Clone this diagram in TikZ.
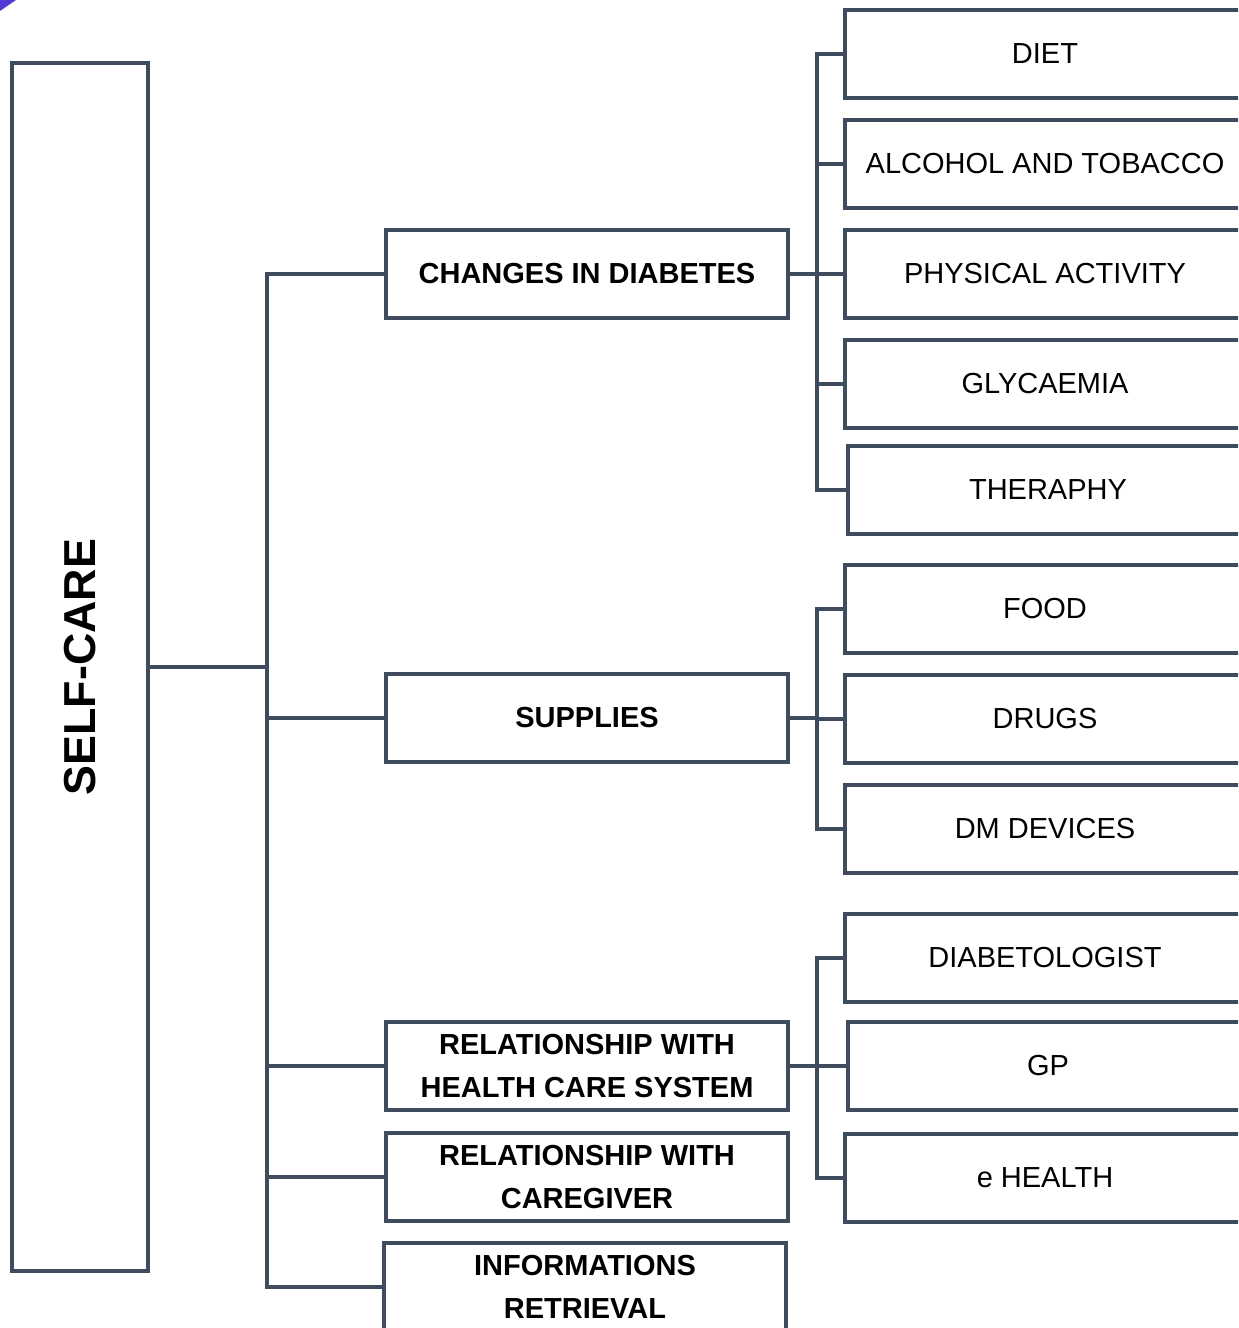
\documentclass[tikz,border=0pt]{standalone}
\usepackage{fontspec}
\setmainfont{Liberation Sans}
\usepackage{tikz}
\definecolor{slateline}{RGB}{63,76,94}
\definecolor{cornerpurple}{RGB}{84,56,214}
\tikzset{
    every picture/.style={x=0.02cm, y=-0.02cm},
    link/.style={slateline, line width=2.2pt, line cap=rect},
    mainbox/.style={draw=slateline, line width=2.2pt, minimum width=2.72cm, minimum height=24.16cm, inner sep=0pt},
    midbox/.style={draw=slateline, line width=2.2pt, minimum width=8.04cm, minimum height=1.76cm, align=center, inner sep=0pt,
        font=\fontsize{16.5}{24.4}\selectfont\bfseries},
    leafbox/.style={draw=slateline, line width=2.2pt, minimum width=8cm, minimum height=1.76cm, align=center, inner sep=0pt,
        font=\fontsize{16.5}{24.4}\selectfont}
}

\begin{document}
\begin{tikzpicture}
    % Page frame
    \clip (0,0) rectangle (1238,1328);
    \fill[white] (0,0) rectangle (1238,1328);
    \fill[cornerpurple] (0,0) -- (16,0) -- (0,11) -- cycle;

    % Main box
    \node[mainbox] (self) at (80,667) {};
    \node[rotate=90, font=\fontsize{25.5}{30}\selectfont\bfseries] at (self.center) {SELF-CARE};

    % Middle boxes
    \node[midbox] (changes) at (587,274) {CHANGES IN DIABETES};
    \node[midbox] (supplies) at (587,718) {SUPPLIES};
    \node[midbox] (relhcs) at (587,1066) {RELATIONSHIP WITH\\HEALTH CARE SYSTEM};
    \node[midbox] (relcare) at (587,1177) {RELATIONSHIP WITH\\CAREGIVER};
    \node[midbox] (info) at (585,1287) {INFORMATIONS\\RETRIEVAL};

    % Right boxes
    \node[leafbox] (diet) at (1045,54) {DIET};
    \node[leafbox] (alcohol) at (1045,164) {ALCOHOL AND TOBACCO};
    \node[leafbox] (physical) at (1045,274) {PHYSICAL ACTIVITY};
    \node[leafbox] (glycaemia) at (1045,384) {GLYCAEMIA};
    \node[leafbox] (theraphy) at (1048,490) {THERAPHY};
    \node[leafbox] (food) at (1045,609) {FOOD};
    \node[leafbox] (drugs) at (1045,719) {DRUGS};
    \node[leafbox] (devices) at (1045,829) {DM DEVICES};
    \node[leafbox] (diabetologist) at (1045,958) {DIABETOLOGIST};
    \node[leafbox] (gp) at (1048,1066) {GP};
    \node[leafbox] (ehealth) at (1045,1178) {e HEALTH};

    % Trunk from the main box
    \coordinate (trunk) at (267,667);
    \draw[link] (self.east) -- (trunk);
    \draw[link] (trunk |- changes) -- (trunk |- info);
    \foreach \m in {changes, supplies, relhcs, relcare, info} {
        \draw[link] (trunk |- \m) -- (\m.west);
    }

    % Brackets to the right boxes
    \coordinate (forkA) at (817,274);
    \coordinate (forkB) at (817,718);
    \coordinate (forkC) at (817,1066);
    \draw[link] (changes.east) -- (forkA);
    \draw[link] (supplies.east) -- (forkB);
    \draw[link] (relhcs.east) -- (forkC);
    \draw[link] (forkA |- diet) -- (forkA |- theraphy);
    \draw[link] (forkB |- food) -- (forkB |- devices);
    \draw[link] (forkC |- diabetologist) -- (forkC |- ehealth);
    \foreach \r in {diet, alcohol, physical, glycaemia, theraphy} {
        \draw[link] (forkA |- \r) -- (\r.west);
    }
    \foreach \r in {food, drugs, devices} {
        \draw[link] (forkB |- \r) -- (\r.west);
    }
    \foreach \r in {diabetologist, gp, ehealth} {
        \draw[link] (forkC |- \r) -- (\r.west);
    }
\end{tikzpicture}
\end{document}
